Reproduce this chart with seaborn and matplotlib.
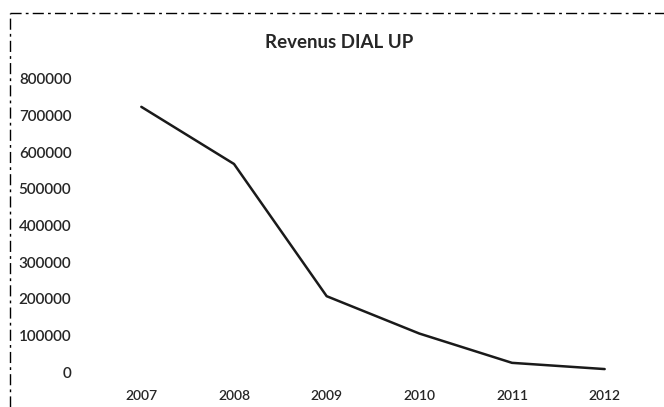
import matplotlib
matplotlib.use("Agg")
import matplotlib.pyplot as plt
from matplotlib.lines import Line2D
import seaborn as sns
import pandas as pd

years = ["2007", "2008", "2009", "2010", "2011", "2012"]
revenus = [724000, 568000, 207000, 105000, 25000, 8000]
y_ticks = [0, 100000, 200000, 300000, 400000, 500000, 600000, 700000, 800000]
title = "Revenus DIAL UP"

sns.set_theme(style="white")
plt.rcParams['font.family'] = ['Lato', 'DejaVu Sans']

df = pd.DataFrame({"year": years, "revenus": revenus})

fig = plt.figure(figsize=(6.64, 4.07), dpi=100)
ax = fig.add_axes([95/664, 35/407, (651-95)/664, (372-79)/407])
sns.lineplot(data=df, x="year", y="revenus", ax=ax, color="#1a1a1a", linewidth=1.8, sort=False)

ax.set_xlim(-0.5, len(years) - 0.5)
ax.set_ylim(0, 800000)
ax.set_yticks(y_ticks)
ax.set_yticklabels([str(v) for v in y_ticks], fontsize=11, fontweight="semibold")
ax.tick_params(axis="y", pad=17, length=0)
ax.tick_params(axis="x", pad=13, length=0)
for lbl in ax.get_xticklabels():
    lbl.set_fontsize(10)
    lbl.set_fontweight("semibold")
ax.set_xlabel("")
ax.set_ylabel("")
for s in ax.spines.values():
    s.set_visible(False)

fig.text(339/664, 1 - 43/407, title, ha="center", va="center", fontsize=13.5, fontweight="bold")

# dashed chart border (top and left visible)
fig.add_artist(Line2D([10/664, 1.0], [1 - 13/407, 1 - 13/407], transform=fig.transFigure,
                      color="black", linewidth=1.0, linestyle=(0, (8, 3, 2, 3))))
fig.add_artist(Line2D([10/664, 10/664], [0.0, 1 - 13/407], transform=fig.transFigure,
                      color="black", linewidth=1.0, linestyle=(0, (8, 3, 2, 3))))

fig.savefig("out.png", dpi=100)
